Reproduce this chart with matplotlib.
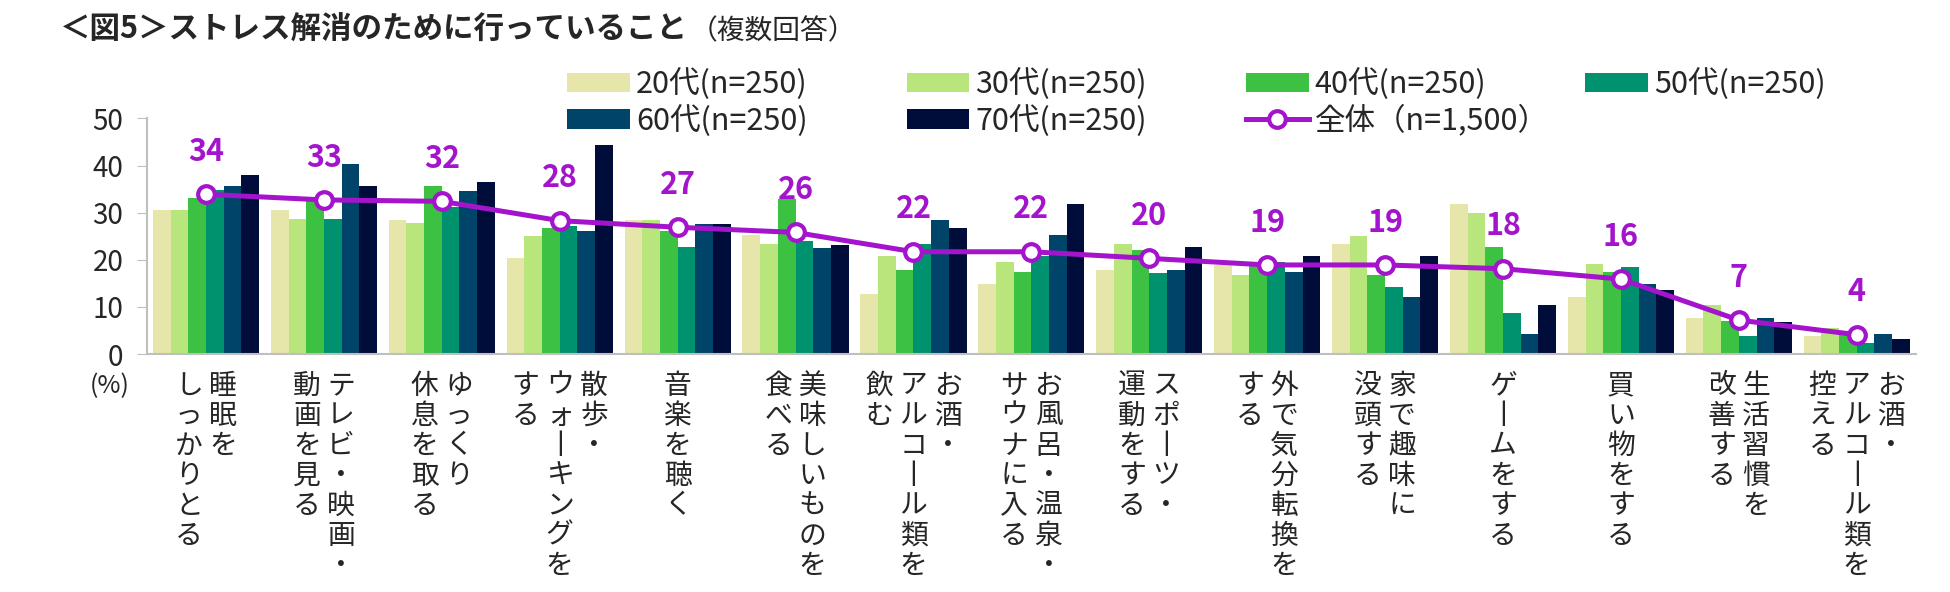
import matplotlib
matplotlib.use("Agg")
import matplotlib.pyplot as plt
from matplotlib.lines import Line2D
import numpy as np

plt.rcParams['font.family'] = ['Noto Sans CJK JP', 'DejaVu Sans']

# category labels, one list entry per vertical column (right-most column first)
categories = [
    ["睡眠を", "しっかりとる"],
    ["テレビ・映画・", "動画を見る"],
    ["ゆっくり", "休息を取る"],
    ["散歩・", "ウォーキングを", "する"],
    ["音楽を聴く"],
    ["美味しいものを", "食べる"],
    ["お酒・", "アルコール類を", "飲む"],
    ["お風呂・温泉・", "サウナに入る"],
    ["スポーツ・", "運動をする"],
    ["外で気分転換を", "する"],
    ["家で趣味に", "没頭する"],
    ["ゲームをする"],
    ["買い物をする"],
    ["生活習慣を", "改善する"],
    ["お酒・", "アルコール類を", "控える"],
]

series_names = ["20代(n=250)", "30代(n=250)", "40代(n=250)",
                "50代(n=250)", "60代(n=250)", "70代(n=250)"]
s20 = [30.6, 30.5, 28.4, 20.3, 28.4, 25.3, 12.8, 14.8, 17.9, 18.9, 23.4, 31.9, 12.0, 7.6, 3.9]
s30 = [30.6, 28.7, 27.9, 25.1, 28.4, 23.4, 20.8, 19.5, 23.4, 16.8, 25.1, 29.9, 19.1, 10.3, 5.6]
s40 = [33.2, 32.5, 35.7, 26.7, 26.0, 32.9, 17.9, 17.5, 22.0, 18.9, 16.8, 22.7, 17.5, 7.1, 4.5]
s50 = [34.8, 28.7, 31.1, 27.2, 22.7, 24.0, 23.4, 20.8, 17.2, 19.5, 14.3, 8.8, 18.4, 3.9, 2.3]
s60 = [35.7, 40.4, 34.5, 26.0, 27.6, 22.5, 28.5, 25.2, 17.9, 17.5, 12.0, 4.3, 14.8, 7.6, 4.3]
s70 = [37.9, 35.7, 36.4, 44.4, 27.6, 23.2, 26.8, 31.9, 22.7, 20.8, 20.8, 10.3, 13.5, 6.8, 3.1]
total_name = "全体（n=1,500）"
total = [33.9, 32.7, 32.4, 28.3, 26.9, 25.8, 21.7, 21.7, 20.3, 18.9, 18.9, 18.1, 15.9, 7.2, 4.1]

colors = ["#E6E6AA", "#B8E57C", "#3DC142", "#00926F", "#00446A", "#000D3A"]
purple = "#A314CC"
text_col = '#262626'

fig = plt.figure(figsize=(19.5, 5.92), dpi=100)
ax = fig.add_axes([0.0754, 0.402, 0.907, 0.398])

x = np.arange(len(categories))
bw = 0.15
bars = []
for i, vals in enumerate([s20, s30, s40, s50, s60, s70]):
    b = ax.bar(x + (i - 2.5) * bw, vals, bw, color=colors[i], label=series_names[i], zorder=2)
    bars.append(b)

line, = ax.plot(x, total, color=purple, lw=3.6, marker='o', ms=12,
                mfc='white', mec=purple, mew=3, zorder=4)
for xi, v in zip(x, total):
    ax.text(xi, v + 9, f"{v:.0f}", color=purple, fontsize=22, fontweight='bold',
            ha='center', va='center', zorder=5)

ax.set_xlim(-0.5, len(categories) - 0.5)
ax.set_ylim(0, 50)
ax.set_yticks(range(0, 51, 10))
ax.tick_params(axis='y', labelsize=20, length=7, color='#BFBFBF', labelcolor=text_col, pad=10)
ax.set_xticks([])
for s in ['top', 'right']:
    ax.spines[s].set_visible(False)
for s in ['left', 'bottom']:
    ax.spines[s].set_color('#BFBFBF')
    ax.spines[s].set_linewidth(1.5)

# vertical category labels (long vowel mark drawn as a vertical stroke)
pitch = 0.29
for xi, cols in zip(x, categories):
    n = len(cols)
    for j, col in enumerate(cols):
        cx = xi + (n - 1) / 2 * pitch - j * pitch
        txt = "\n".join(col.replace("ー", "丨"))
        ax.text(cx, -3.5, txt, ha='center', va='top', fontsize=20, linespacing=1.0,
                color=text_col)

fig.text(110 / 1950, 1 - 386 / 592, "(%)", ha='center', va='center', fontsize=18, color=text_col)

# legend: four columns, drawn as separate legends so the pitch is even
total_handle = Line2D([], [], color=purple, lw=3.6, marker='o', ms=12,
                      mfc='white', mec=purple, mew=3)
legend_cols = [
    ([bars[0], bars[4]], [series_names[0], series_names[4]]),
    ([bars[1], bars[5]], [series_names[1], series_names[5]]),
    ([bars[2], total_handle], [series_names[2], total_name]),
    ([bars[3]], [series_names[3]]),
]
for k, (h, l) in enumerate(legend_cols):
    fig.legend(h, l, loc='upper left', bbox_to_anchor=(0.291 + k * 0.174, 0.885),
               frameon=False, fontsize=22, handlelength=2.05, handleheight=0.6,
               handletextpad=0.2, labelspacing=0.15, borderpad=0, borderaxespad=0,
               labelcolor=text_col)

# title
t1 = fig.text(0.0305, 0.95, "＜図5＞ストレス解消のために行っていること", fontsize=22,
              fontweight='bold', ha='left', va='center', color=text_col)
fig.canvas.draw()
bb = t1.get_window_extent().transformed(fig.transFigure.inverted())
fig.text(bb.x1 + 0.001, 0.947, "（複数回答）", fontsize=20, ha='left', va='center', color=text_col)

fig.savefig("out.png", dpi=100)
